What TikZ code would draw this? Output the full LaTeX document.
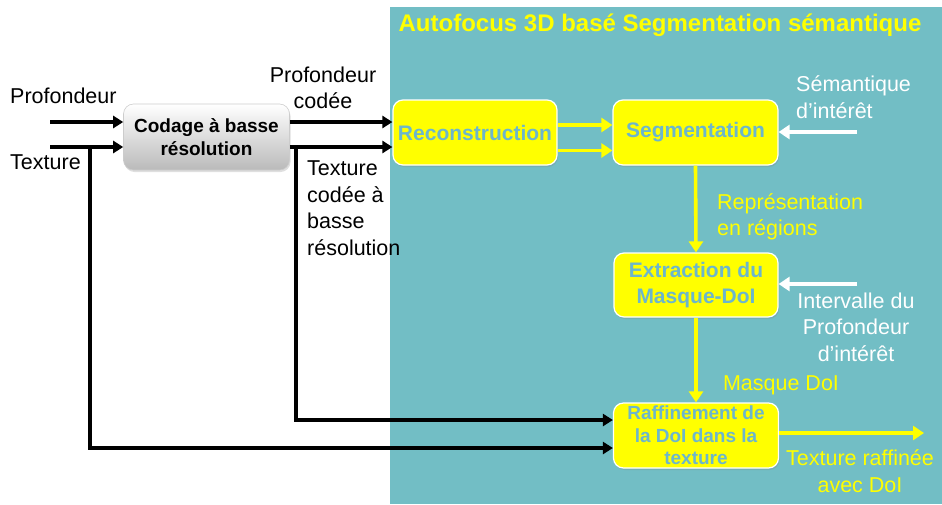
\documentclass[tikz,border=0pt]{standalone}
\usepackage{fontspec}
\setmainfont{Liberation Sans}
\usetikzlibrary{arrows.meta,shadows}
\definecolor{panelteal}{RGB}{114,190,197}
\definecolor{boxtxt}{RGB}{108,182,204}
\definecolor{yel}{RGB}{255,255,0}
\tikzset{
  blk/.style={line width=3.5pt, black, -{Triangle[length=10pt,width=12pt]}},
  yarr/.style={line width=3.6pt, yel, -{Triangle[length=11pt,width=14pt]}},
  warr/.style={line width=3.8pt, white, -{Triangle[length=11pt,width=14pt]}},
  ybox/.style={draw=white, line width=1.2pt, fill=yel, rounded corners=10pt,
    minimum width=165pt, minimum height=65pt, text=boxtxt, align=center, inner sep=0pt,
    font=\bfseries\fontsize{21}{26}\selectfont,
    drop shadow={opacity=0.25, shadow xshift=1pt, shadow yshift=-2pt}},
  gbox/.style={draw=gray!40, line width=0.6pt, rounded corners=10pt,
    top color=white, bottom color=black!27, minimum width=166pt, minimum height=66pt,
    align=center, inner sep=0pt, font=\bfseries\fontsize{19}{23.5}\selectfont,
    drop shadow={opacity=0.25, shadow xshift=1pt, shadow yshift=-2pt}},
  lbl/.style={inner sep=0pt, font=\fontsize{21.5}{26.5}\selectfont},
}
\begin{document}
\begin{tikzpicture}[x=1pt,y=-1pt]
\useasboundingbox (0,0) rectangle (942,504);
\fill[white] (0,0) rectangle (942,504);
\node[fill=panelteal, minimum width=552pt, minimum height=497pt, anchor=north west, inner sep=0pt] (panel) at (390,7) {};
\node[text=yel, inner sep=0pt, font=\bfseries\fontsize{24}{28}\selectfont] (title) at (660,25) {Autofocus 3D basé Segmentation sémantique};

% boxes
\node[gbox] (cod) at (206.5,137) {Codage à basse\\résolution};
\node[ybox, minimum width=164pt] (rec) at (475,132.5) {Reconstruction};
\node[ybox] (seg) at (695.5,132.5) {Segmentation};
\node[ybox, minimum width=164pt, minimum height=64pt] (ext) at (696,285) {Extraction du\\Masque-DoI};
\node[ybox, font=\bfseries\fontsize{19}{22.5}\selectfont] (raf) at (696,435.5) {Raffinement de\\la DoI dans la\\texture};

% labels
\node[lbl, anchor=west] (lprof) at (10,96) {Profondeur};
\node[lbl, anchor=west] (ltex) at (10,162) {Texture};
\node[lbl, align=center] (lprofc) at (323,88) {Profondeur\\codée};
\node[lbl, align=left, anchor=west] (ltexc) at (307,208) {Texture\\codée à\\basse\\résolution};
\node[lbl, align=left, anchor=west, text=white] (lsem) at (796,97) {Sémantique\\d’intérêt};
\node[lbl, align=left, anchor=west, text=yel] (lrep) at (717,217) {Représentation\\en régions};
\node[lbl, align=center, text=white] (lint) at (856,327) {Intervalle du\\Profondeur\\d’intérêt};
\node[lbl, text=yel] (lmasq) at (781,385) {Masque DoI};
\node[lbl, align=center, text=yel] (lout) at (860,471) {Texture raffinée\\avec DoI};

% free ends
\coordinate (pin) at (50,122);
\coordinate (tin) at (50,147);
\coordinate (tb) at (90,147);
\coordinate (cb) at (296,147);
\coordinate (semin) at (857,132);
\coordinate (intin) at (857,284);
\coordinate (outend) at (924,433);

% black connectors
\draw[blk] (pin) -- (pin -| cod.west);
\draw[blk] (tin) -- (tin -| cod.west);
\draw[blk] (pin -| cod.east) -- (pin -| rec.west);
\draw[blk] (tin -| cod.east) -- (tin -| rec.west);
\draw[blk] (tb) |- ([yshift=-12.5pt]raf.west);
\draw[blk] (cb) |- ([yshift=15.5pt]raf.west);

% yellow connectors
\draw[yarr] ([yshift=7.5pt]rec.east) -- ([yshift=7.5pt]seg.west);
\draw[yarr] ([yshift=-18pt]rec.east) -- ([yshift=-18pt]seg.west);
\draw[yarr] (seg.south) -- (ext.north);
\draw[yarr] (ext.south) -- (raf.north);
\draw[yarr] (raf.east |- outend) -- (outend);

% white connectors
\draw[warr] (semin) -- (semin -| seg.east);
\draw[warr] (intin) -- (intin -| ext.east);
\end{tikzpicture}
\end{document}
